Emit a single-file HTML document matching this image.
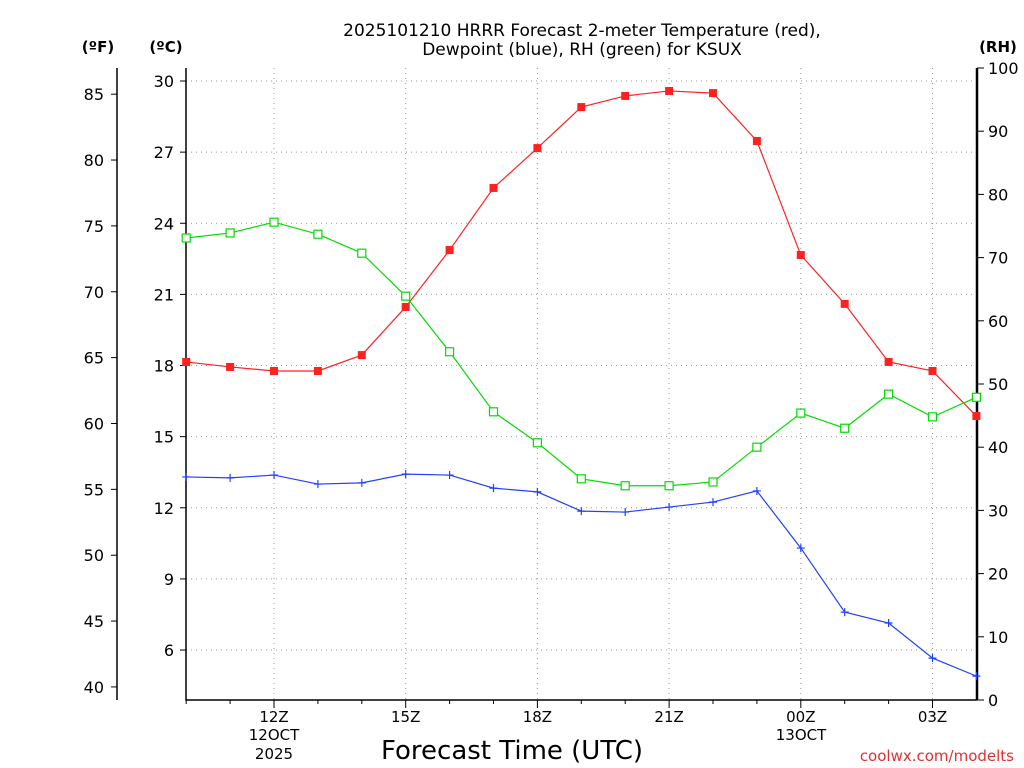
<!DOCTYPE html>
<html><head><meta charset="utf-8"><style>
body{margin:0;background:#fff;}
svg{display:block;font-family:"DejaVu Sans","Liberation Sans",sans-serif;}
</style></head><body>
<svg id="c" width="1024" height="768"></svg>
<script>
const hours=[10,11,12,13,14,15,16,17,18,19,20,21,22,23,24,25,26,27,28];
const tempC=[18.15,17.94,17.77,17.77,18.44,20.47,22.87,25.49,27.17,28.9,29.37,29.58,29.49,27.47,22.66,20.6,18.15,17.77,15.87];
const dewC=[13.3,13.26,13.38,13.0,13.05,13.42,13.38,12.83,12.67,11.86,11.82,12.03,12.24,12.71,10.3,7.6,7.14,5.66,4.9];
const rh=[73.1,73.9,75.6,73.7,70.7,63.9,55.1,45.6,40.7,35.0,33.9,33.9,34.5,40.0,45.4,43.0,48.4,44.8,47.9];
const cTicks=[6,9,12,15,18,21,24,27,30];
const fTicks=[40,45,50,55,60,65,70,75,80,85];
const rhTicks=[0,10,20,30,40,50,60,70,80,90,100];
const xTickHours=[12,15,18,21,24,27];
const xTickLabels=["12Z","15Z","18Z","21Z","00Z","03Z"];

const NS="http://www.w3.org/2000/svg";
const svg=document.getElementById('c');
const L=186,R=977,T=68,B=700;
const xs=h=>274+(h-12)*43.9;
const yC=c=>81+(30-c)*23.71;
const yF=f=>yC((f-32)*5/9);
const yR=r=>700-r*6.32;
function el(t,a,txt){const e=document.createElementNS(NS,t);for(const k in a)e.setAttribute(k,a[k]);if(txt!==undefined)e.textContent=txt;svg.appendChild(e);return e;}

// grid
for(const c of cTicks){const g=el('line',{x1:L,x2:R,y1:yC(c),y2:yC(c),stroke:'#999','stroke-dasharray':'1,4'});

}
for(const h of xTickHours){const g=el('line',{x1:xs(h),x2:xs(h),y1:T,y2:B,stroke:'#999','stroke-dasharray':'1,4'});

}
// axes
let a=el('path',{d:`M${L},${T}V${B}H${R}`,stroke:'#000','stroke-width':1.5,fill:'none'});


a=el('line',{x1:R,x2:R,y1:T,y2:B,stroke:'#000','stroke-width':2.5});


a=el('line',{x1:117,x2:117,y1:T,y2:B,stroke:'#000','stroke-width':1.5});


// ticks & labels
for(const c of cTicks){const y=yC(c);el('line',{x1:L-6,x2:L,y1:y,y2:y,stroke:'#000'});
const t=el('text',{x:174,y:y+6,'text-anchor':'end','font-size':16},c);

}
for(const f of fTicks){const y=yF(f);el('line',{x1:111,x2:117,y1:y,y2:y,stroke:'#000'});
const t=el('text',{x:104,y:y+6,'text-anchor':'end','font-size':16},f);

}
for(const r of rhTicks){const y=yR(r);el('line',{x1:R,x2:R+7,y1:y,y2:y,stroke:'#000'});
const t=el('text',{x:988,y:y+6,'font-size':16},r);

}
for(let i=0;i<18;i++){const x=xs(10+i);el('line',{x1:x,x2:x,y1:B,y2:B+(((10+i)%3===0)?8:4),stroke:'#000'});}
xTickHours.forEach((h,i)=>{const t=el('text',{x:xs(h),y:722,'text-anchor':'middle','font-size':15},xTickLabels[i]);

});
[[274,740,'12OCT'],[274,759,'2025'],[801,740,'13OCT']].forEach(d=>{const t=el('text',{x:d[0],y:d[1],'text-anchor':'middle','font-size':15},d[2]);

});
// titles
let t=el('text',{x:582,y:36,'text-anchor':'middle','font-size':17},'2025101210 HRRR Forecast 2-meter Temperature (red),');


t=el('text',{x:582,y:55,'text-anchor':'middle','font-size':17},'Dewpoint (blue), RH (green) for KSUX');


[[98,'(ºF)','fahrenheit-axis-title'],[166,'(ºC)','celsius-axis-title'],[998,'(RH)','rh-axis-title']].forEach(d=>{const e=el('text',{x:d[0],y:52,'text-anchor':'middle','font-size':15,'font-weight':'bold'},d[1]);

});
t=el('text',{x:512,y:759,'text-anchor':'middle','font-size':26},'Forecast Time (UTC)');


t=el('text',{x:1014,y:761,'text-anchor':'end','font-size':15,fill:'#e03030'},'coolwx.com/modelts');



// series
function series(vals,yf,color,name,mark){
 const p=el('polyline',{points:vals.map((v,i)=>xs(hours[i])+','+yf(v)).join(' '),fill:'none',stroke:color,'stroke-width':1.2});
 
 
 vals.forEach((v,i)=>{const x=xs(hours[i]),y=yf(v);let m;
  if(mark==='fill')m=el('rect',{x:x-4,y:y-4,width:8,height:8,fill:color});
  else if(mark==='open')m=el('rect',{x:x-4,y:y-4,width:8,height:8,fill:'#fff',stroke:color,'stroke-width':1.2});
  else m=el('path',{d:`M${x-4},${y}H${x+4}M${x},${y-4}V${y+4}`,stroke:color,'stroke-width':1.2});
  
  });
}
series(tempC,yC,'#ff2020','temperature','fill');
series(rh,yR,'#00dd00','rh','open');
series(dewC,yC,'#2040ff','dewpoint','plus');
</script>
</body></html>
